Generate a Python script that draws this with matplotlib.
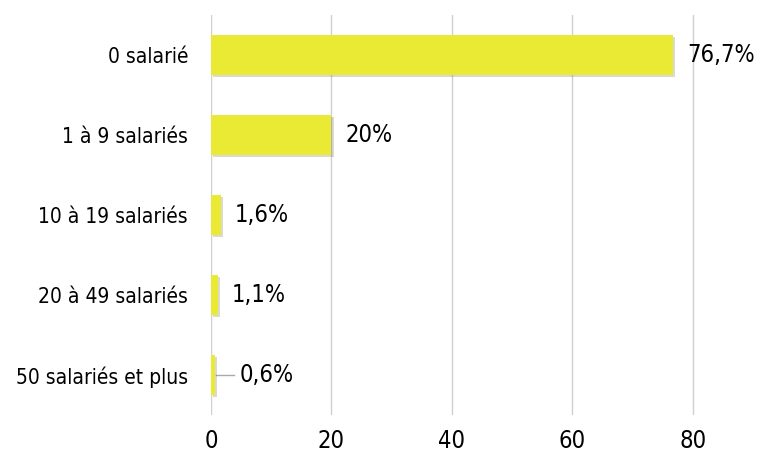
import matplotlib.pyplot as plt
import matplotlib.patheffects as pe

categories = ['0 salarié', '1 à 9 salariés', '10 à 19 salariés', '20 à 49 salariés', '50 salariés et plus']
values = [76.7, 20, 1.6, 1.1, 0.6]
labels = ['76,7%', '20%', '1,6%', '1,1%', '0,6%']
ticks = [0, 20, 40, 60, 80]

plt.rcParams['font.family'] = ['DejaVu Sans']
plt.rcParams['font.stretch'] = 'condensed'

fig = plt.figure(figsize=(7.62, 4.55), dpi=100)
ax = fig.add_axes([211 / 762, 40 / 455, 542 / 762, 400 / 455])

ypos = list(range(len(categories)))
bars = ax.barh(ypos, values, height=0.5, color='#eaea35', zorder=3,
               path_effects=[pe.SimplePatchShadow(offset=(1.5, -1.5), alpha=0.2), pe.Normal()])

for y, v, lab in zip(ypos, values, labels):
    if v < 1:
        ax.plot([v + 0.3, v + 3.3], [y, y], color='#aaaaaa', lw=1, zorder=2)
        ax.text(v + 4.2, y, lab, va='center', ha='left', fontsize=17, stretch='condensed')
    else:
        ax.text(v + 2.4, y, lab, va='center', ha='left', fontsize=17, stretch='condensed')

ax.set_xlim(0, 90)
ax.set_ylim(len(categories) - 0.5, -0.5)
ax.set_yticks(ypos)
ax.set_yticklabels(categories, fontsize=15, stretch='condensed')
ax.set_xticks(ticks)
ax.set_xticklabels([str(t) for t in ticks], fontsize=17, stretch='condensed')
ax.grid(axis='x', color='#d0d0d0', lw=1, zorder=0)
for s in ax.spines.values():
    s.set_visible(False)
ax.tick_params(length=0)
ax.tick_params(axis='y', pad=16.5)
ax.tick_params(axis='x', pad=10)

fig.savefig('out.png', dpi=100)
